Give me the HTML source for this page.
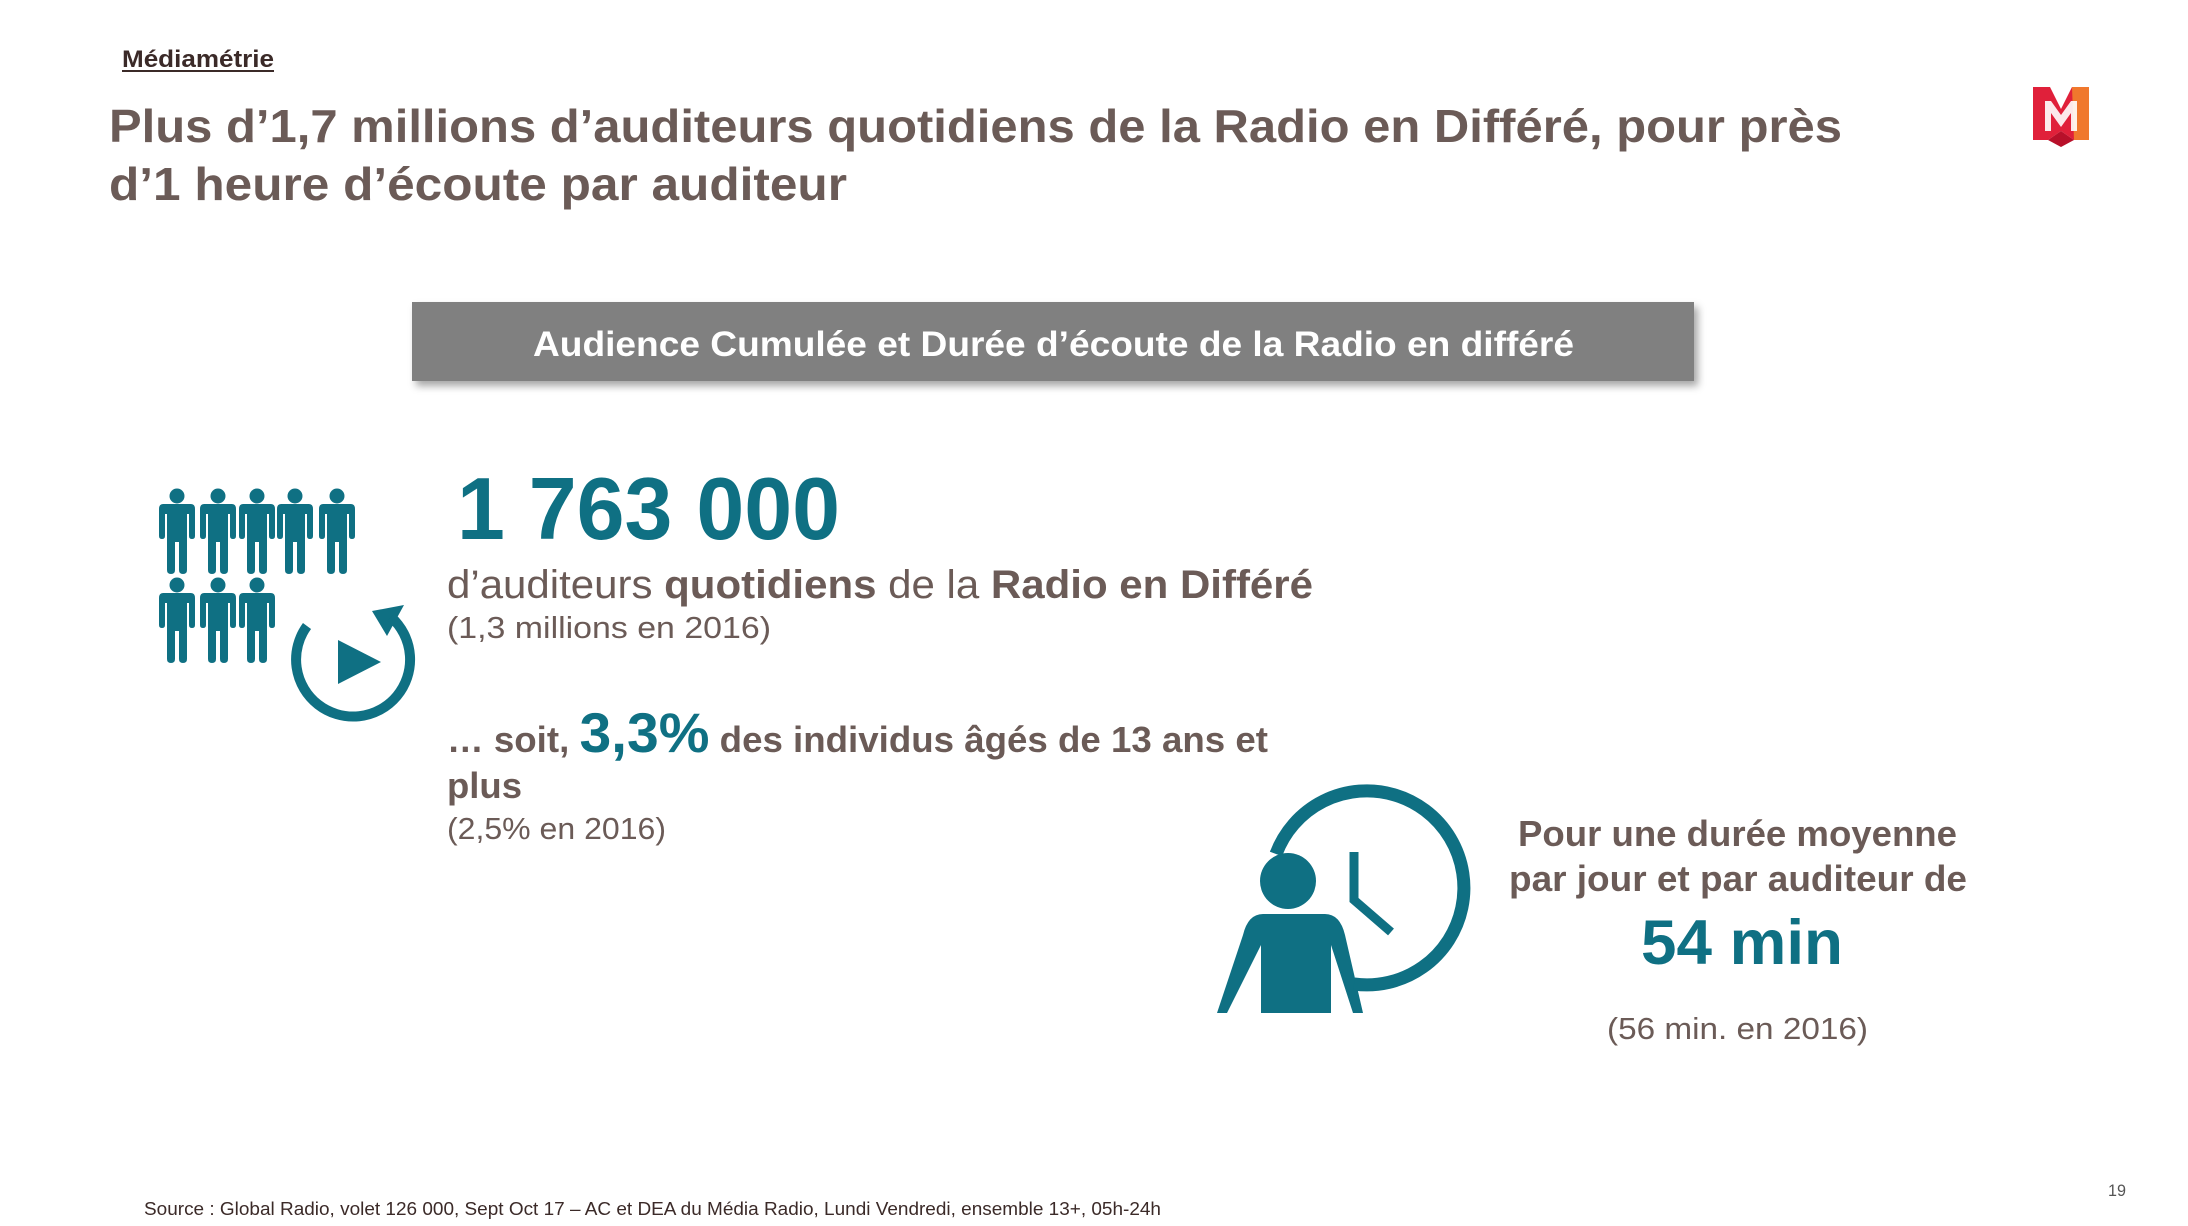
<!DOCTYPE html>
<html><head><meta charset="utf-8"><style>
html,body{margin:0;padding:0;background:#fff;}
svg{display:block;}
text{font-family:"Liberation Sans",sans-serif;}
</style></head><body>
<svg width="2188" height="1226" viewBox="0 0 2188 1226" xmlns="http://www.w3.org/2000/svg">
<defs>
<filter id="sh" x="-5%" y="-20%" width="110%" height="150%"><feDropShadow dx="4" dy="5" stdDeviation="4" flood-color="#000" flood-opacity="0.35"/></filter>
<g id="p">
<circle cx="0" cy="0" r="7.5"/>
<path d="M-14,8 H14 Q18,8 18,13 V40 Q18,43 15,43 Q12,43 12,40 V18 H10 V74 Q10,78 6,78 Q2,78 2,74 V46 H-2 V74 Q-2,78 -6,78 Q-10,78 -10,74 V18 H-12 V40 Q-12,43 -15,43 Q-18,43 -18,40 V13 Q-18,8 -14,8 Z"/>
</g>
</defs>
<text x="122" y="67" font-size="24" font-weight="bold" fill="#3b2a28" textLength="152" lengthAdjust="spacingAndGlyphs">Médiamétrie</text>
<rect x="122" y="70" width="152" height="2" fill="#3b2a28"/>
<g fill="#6b5b57" font-weight="bold" font-size="46">
<text x="109" y="142" textLength="1733" lengthAdjust="spacingAndGlyphs">Plus d’1,7 millions d’auditeurs quotidiens de la Radio en Différé, pour près</text>
<text x="109" y="200" textLength="738" lengthAdjust="spacingAndGlyphs">d’1 heure d’écoute par auditeur</text>
</g>
<g transform="translate(2033,87)">
<path d="M0,0 H17 L28,22 L39,0 H56 V53 H41 L28,44 L15,53 H0 Z" fill="#e0203a"/>
<path d="M39,0 H56 V53 H41 Z" fill="#f0782d"/>
<path d="M15,53 L28,44 L41,53 L28,60 Z" fill="#b8102a"/>
<path d="M12,14 V44 H18 V26 L28,40 L38,26 V44 H44 V14 H38 L28,28 L18,14 Z" fill="#fff" opacity="0.9"/>
</g>
<rect x="412" y="302" width="1282" height="79" fill="#808080" filter="url(#sh)"/>
<text x="533" y="356" font-size="35" font-weight="bold" fill="#fff" textLength="1041" lengthAdjust="spacingAndGlyphs">Audience Cumulée et Durée d’écoute de la Radio en différé</text>
<g fill="#0f7083">
<use href="#p" x="177" y="496"/><use href="#p" x="218" y="496"/><use href="#p" x="257" y="496"/><use href="#p" x="295" y="496"/><use href="#p" x="337" y="496"/>
<use href="#p" x="177" y="585"/><use href="#p" x="218" y="585"/><use href="#p" x="257" y="585"/>
<path d="M338,640 L381,662 L338,684 Z"/>
<path d="M372,611 L404,605 L387,636 Z"/>
</g>
<path d="M307,626 A57,57 0 1 0 391,617" fill="none" stroke="#0f7083" stroke-width="10"/>
<text x="457" y="539" font-size="88" font-weight="bold" fill="#0f7083" textLength="383" lengthAdjust="spacingAndGlyphs">1 763 000</text>
<text x="447" y="598" font-size="40" fill="#6b5b57" textLength="866" lengthAdjust="spacingAndGlyphs">d’auditeurs <tspan font-weight="bold">quotidiens</tspan> de la <tspan font-weight="bold">Radio en Différé</tspan></text>
<text x="447" y="638" font-size="31" fill="#6b5b57" textLength="324" lengthAdjust="spacingAndGlyphs">(1,3 millions en 2016)</text>
<text x="447" y="752" font-size="36" font-weight="bold" fill="#6b5b57" textLength="821" lengthAdjust="spacingAndGlyphs">… soit, <tspan fill="#0f7083" font-size="56">3,3%</tspan> des individus âgés de 13 ans et</text>
<text x="447" y="798" font-size="36" font-weight="bold" fill="#6b5b57" textLength="75" lengthAdjust="spacingAndGlyphs">plus</text>
<text x="447" y="839" font-size="31" fill="#6b5b57" textLength="219" lengthAdjust="spacingAndGlyphs">(2,5% en 2016)</text>
<g fill="#0f7083" transform="translate(-5,0)">
<circle cx="1293" cy="881" r="28"/>
<path d="M1268,914 H1330 Q1345,914 1350,935 L1368,1013 H1358 L1336,945 V1013 H1266 V945 L1232,1013 H1222 L1248,935 Q1253,914 1268,914 Z"/>
</g>
<g transform="translate(-14,4)">
<path d="M1290,850 A97,97 0 1 1 1368,980" fill="none" stroke="#0f7083" stroke-width="13"/>
<path d="M1368,848 V896 L1405,928" fill="none" stroke="#0f7083" stroke-width="9"/>
</g>
<g fill="#6b5b57" font-weight="bold" font-size="36">
<text x="1518" y="846" textLength="439" lengthAdjust="spacingAndGlyphs">Pour une durée moyenne</text>
<text x="1509" y="891" textLength="458" lengthAdjust="spacingAndGlyphs">par jour et par auditeur de</text>
</g>
<text x="1641" y="964" font-size="63" font-weight="bold" fill="#0f7083" textLength="202" lengthAdjust="spacingAndGlyphs">54 min</text>
<text x="1607" y="1039" font-size="31" fill="#6b5b57" textLength="261" lengthAdjust="spacingAndGlyphs">(56 min. en 2016)</text>
<text x="144" y="1215" font-size="18" fill="#3b2a28" textLength="1017" lengthAdjust="spacingAndGlyphs">Source : Global Radio, volet 126 000, Sept Oct 17 – AC et DEA du Média Radio, Lundi Vendredi, ensemble 13+, 05h-24h</text>
<text x="2108" y="1196" font-size="17" fill="#555" textLength="18" lengthAdjust="spacingAndGlyphs">19</text>
</svg>
</body></html>
